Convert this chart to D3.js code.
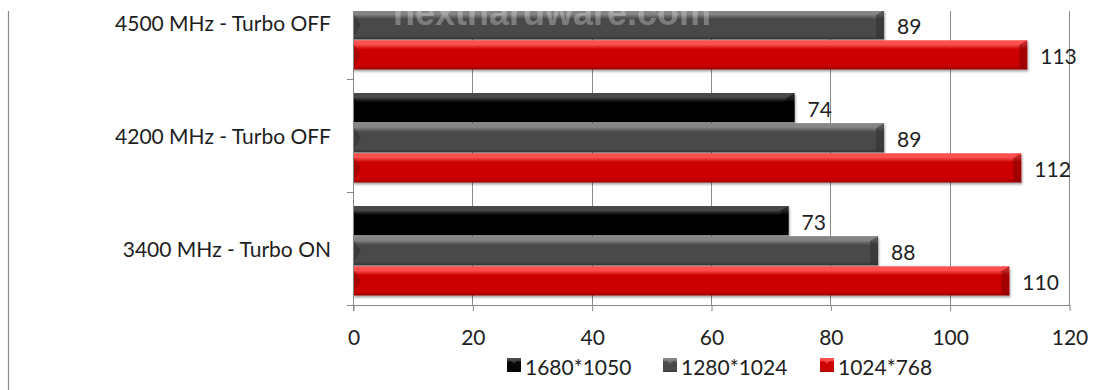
<!DOCTYPE html>
<html>
<head>
<meta charset="utf-8">
<script src="https://cdn.jsdelivr.net/npm/d3@7/dist/d3.min.js"></script>
<style>
  html, body { margin: 0; padding: 0; background: #fff; }
  svg { display: block; }
  text { font-family: Lato, "Open Sans", sans-serif; fill: #1e1e1e; }
</style>
</head>
<body>
<script>
// Frame rates per CPU setting and resolution (null: bar lies outside the visible area)
const categories = ["3400 MHz - Turbo ON", "4200 MHz - Turbo OFF", "4500 MHz - Turbo OFF"];
const seriesNames = ["1680*1050", "1280*1024", "1024*768"];
const fps1680x1050 = [73, 74, null];
const fps1280x1024 = [88, 89, 89];
const fps1024x768 = [110, 112, 113];
const xTicks = [0, 20, 40, 60, 80, 100, 120];

const seriesValues = [fps1680x1050, fps1280x1024, fps1024x768];

// Bevel shading for each series: highlight, body, dark edge
const palette = [
  { top: "#4a4a4a", body: "#060606", bottom: "#000000", edge: "#000000" },
  { top: "#858585", body: "#4a4a4a", bottom: "#353535", edge: "#2a2a2a" },
  { top: "#ff5050", body: "#cc0303", bottom: "#9a0000", edge: "#7a0000" }
];

const W = 1097, H = 390;
const plot = { left: 353, right: 1069, top: 11, bottom: 305 };
const bandSize = 113;
const FS = "21px";

const svg = d3.select("body").append("svg").attr("width", W).attr("height", H);
const defs = svg.append("defs");

palette.forEach((p, i) => {
  const g = defs.append("linearGradient").attr("id", "grad" + i)
    .attr("x1", 0).attr("y1", 0).attr("x2", 0).attr("y2", 1);
  g.append("stop").attr("offset", "0%").attr("stop-color", p.top);
  g.append("stop").attr("offset", "14%").attr("stop-color", p.top);
  g.append("stop").attr("offset", "30%").attr("stop-color", p.body);
  g.append("stop").attr("offset", "86%").attr("stop-color", p.body);
  g.append("stop").attr("offset", "100%").attr("stop-color", p.bottom);
});

const shadow = defs.append("filter").attr("id", "shadow")
  .attr("x", "-5%").attr("y", "-20%").attr("width", "110%").attr("height", "160%");
shadow.append("feDropShadow").attr("dx", 1).attr("dy", 2)
  .attr("stdDeviation", 1.2).attr("flood-color", "#000").attr("flood-opacity", 0.35);

defs.append("clipPath").attr("id", "plotClip").append("rect")
  .attr("x", plot.left - 2).attr("y", plot.top)
  .attr("width", plot.right - plot.left + 4).attr("height", plot.bottom - plot.top);
defs.append("clipPath").attr("id", "labelClip").append("rect")
  .attr("x", 0).attr("y", plot.top).attr("width", W).attr("height", H - plot.top);

const x = d3.scaleLinear().domain([0, 120]).range([plot.left, plot.right]);
const y = d3.scaleBand().domain(categories)
  .range([plot.bottom, plot.bottom - bandSize * categories.length]);
const yInner = d3.scaleBand().domain(seriesNames).range([14, 103.5]).paddingInner(0.03);

// Outer frame line on the left
svg.append("line").attr("x1", 8.5).attr("x2", 8.5).attr("y1", plot.top).attr("y2", H)
  .attr("stroke", "#8c8c8c").attr("stroke-width", 1.2);

// Vertical gridlines
svg.append("g").selectAll("line").data(xTicks.slice(1)).join("line")
  .attr("x1", d => Math.round(x(d)) + 0.5).attr("x2", d => Math.round(x(d)) + 0.5)
  .attr("y1", plot.top).attr("y2", plot.bottom)
  .attr("stroke", "#8a8a8a").attr("stroke-width", 1);

// Bars
const barsG = svg.append("g").attr("clip-path", "url(#plotClip)");
const bars = [];
categories.forEach((c, ci) => {
  seriesNames.forEach((s, si) => {
    const v = seriesValues[si][ci];
    if (v != null) bars.push({ cat: c, ser: s, si, value: v });
  });
});

const barG = barsG.selectAll("g.bar").data(bars).join("g").attr("class", "bar")
  .attr("filter", "url(#shadow)");

barG.each(function (d) {
  const g = d3.select(this);
  const x0 = x(0), x1 = x(d.value);
  const y0 = y(d.cat) + yInner(d.ser), h = yInner.bandwidth();
  const b = 8, p = palette[d.si];
  g.append("rect").attr("x", x0).attr("y", y0).attr("width", x1 - x0).attr("height", h)
    .attr("fill", `url(#grad${d.si})`);
  // left bevel
  g.append("path")
    .attr("d", `M${x0},${y0 + 3}L${x0 + b},${y0 + h / 2}L${x0},${y0 + h - 2}Z`)
    .attr("fill", p.edge).attr("opacity", 0.45);
  g.append("path")
    .attr("d", `M${x0},${y0}L${x0 + b},${y0 + b * 0.6}L${x0 + b + 4},${y0 + b * 0.6}L${x0 + 2},${y0}Z`)
    .attr("fill", p.top).attr("opacity", 0.45);
  // right bevel
  g.append("path")
    .attr("d", `M${x1},${y0}L${x1 - b},${y0 + b * 0.6}L${x1 - b},${y0 + h - 2}L${x1},${y0 + h}Z`)
    .attr("fill", p.edge).attr("opacity", 0.5);
  g.append("path")
    .attr("d", `M${x1},${y0}L${x1 - b},${y0 + b * 0.6}L${x1 - b - 4},${y0 + b * 0.6}L${x1 - b + 2},${y0}Z`)
    .attr("fill", p.top).attr("opacity", 0.5);
});

// Watermark
barsG.append("text").attr("x", 393).attr("y", 25)
  .style("font-family", "'Liberation Sans', Arial, sans-serif")
  .style("font-weight", "bold").style("font-size", "36px")
  .style("fill", "#ffffff").style("opacity", 0.28)
  .text("nexthardware.com");

// Axes
const axisColor = "#868686";
svg.append("line").attr("x1", plot.left + 0.5).attr("x2", plot.left + 0.5)
  .attr("y1", plot.top).attr("y2", plot.bottom + 6).attr("stroke", axisColor);
svg.append("line").attr("x1", plot.left - 6).attr("x2", plot.right + 1)
  .attr("y1", plot.bottom + 0.5).attr("y2", plot.bottom + 0.5).attr("stroke", axisColor);

const xAxis = d3.axisBottom(x).tickValues(xTicks).tickSize(6).tickPadding(19);
const xg = svg.append("g").attr("transform", `translate(0.5,${plot.bottom})`).call(xAxis);
xg.select(".domain").remove();
xg.selectAll(".tick line").attr("stroke", axisColor);
xg.selectAll(".tick text").style("font-size", FS).style("font-family", "Lato, sans-serif")
  .attr("fill", "#1e1e1e");

// Category boundary ticks on the vertical axis
const boundaries = categories.map(c => y(c));
svg.append("g").attr("clip-path", "url(#labelClip)").selectAll("line").data(boundaries).join("line")
  .attr("x1", plot.left - 6).attr("x2", plot.left)
  .attr("y1", d => Math.round(d) + 0.5).attr("y2", d => Math.round(d) + 0.5)
  .attr("stroke", axisColor);

// Category labels
svg.append("g").attr("clip-path", "url(#labelClip)").selectAll("text").data(categories).join("text")
  .attr("x", 331).attr("y", d => y(d) + y.bandwidth() / 2)
  .attr("text-anchor", "end").attr("dominant-baseline", "central")
  .style("font-size", FS)
  .text(d => d);

// Value labels
svg.append("g").selectAll("text").data(bars).join("text")
  .attr("x", d => x(d.value) + 13)
  .attr("y", d => y(d.cat) + yInner(d.ser) + yInner.bandwidth() / 2 + 1)
  .attr("dominant-baseline", "central")
  .style("font-size", FS)
  .text(d => d.value);

// Legend
const legendX = [507, 663, 820];
const legend = svg.append("g").selectAll("g").data(seriesNames).join("g")
  .attr("transform", (d, i) => `translate(${legendX[i]},365)`);
legend.append("rect").attr("x", 0).attr("y", -7).attr("width", 14).attr("height", 14)
  .attr("fill", (d, i) => `url(#grad${i})`);
legend.append("path").attr("d", "M3,-5L7,-1L11,-5Z")
  .attr("fill", (d, i) => palette[i].top).attr("opacity", 0.6);
legend.append("text").attr("x", 18).attr("y", 1).attr("dominant-baseline", "central")
  .style("font-size", FS).text(d => d);
</script>
</body>
</html>
